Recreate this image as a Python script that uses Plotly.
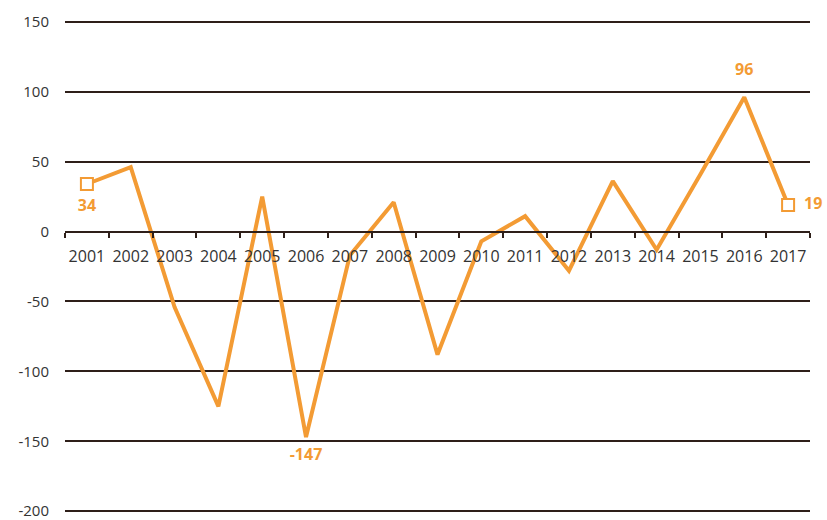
import plotly.graph_objects as go

years = [str(y) for y in range(2001, 2018)]
values = [34, 46, -54, -125, 25, -147, -17, 21, -88, -7, 11, -28, 36, -13, 41, 96, 19]
y_ticks = [150, 100, 50, 0, -50, -100, -150, -200]

line_color = "#F39B34"
grid_color = "#2e1f19"
text_color = "#333333"
font_family = "'Open Sans', Lato, sans-serif"

y_min, y_max = -202, 152

fig = go.Figure()

fig.add_trace(go.Scatter(
    x=years, y=values, mode="lines",
    line=dict(color=line_color, width=4),
    hoverinfo="skip", showlegend=False,
))

# hollow square markers on the first and last year
ends = [0, len(values) - 1]
fig.add_trace(go.Scatter(
    x=[years[i] for i in ends], y=[values[i] for i in ends], mode="markers",
    marker=dict(symbol="square", size=12, color="white",
                line=dict(color=line_color, width=2)),
    hoverinfo="skip", showlegend=False, cliponaxis=False,
))

# value labels for first, minimum, maximum and last year;
# transparent markers act as spacers pushing the text off the line
i_min = values.index(min(values))
i_max = values.index(max(values))
label_idx = [0, i_min, i_max, len(values) - 1]
label_pos = ["bottom center", "bottom center", "top center", "middle right"]
label_gap = [22, 16, 27, 24]
fig.add_trace(go.Scatter(
    x=[years[i] for i in label_idx], y=[values[i] for i in label_idx],
    mode="markers+text",
    text=[f"<b>{values[i]}</b>" for i in label_idx], textposition=label_pos,
    marker=dict(size=label_gap, opacity=0),
    textfont=dict(color=line_color, size=16, family=font_family),
    hoverinfo="skip", showlegend=False, cliponaxis=False,
))

fig.update_layout(
    width=827, height=520,
    margin=dict(l=65, r=17, t=19, b=6),
    paper_bgcolor="white", plot_bgcolor="white",
    font=dict(family=font_family, color=text_color, size=16),
    xaxis=dict(
        type="category", range=[-0.5, len(years) - 0.5],
        anchor="free", position=(0 - y_min) / (y_max - y_min),
        showline=True, linecolor=grid_color, linewidth=2,
        ticks="outside", tickson="boundaries", ticklen=5, tickwidth=1.5,
        tickcolor=grid_color, showgrid=False, tickangle=0,
        ticklabelstandoff=10,
        tickfont=dict(size=16, color=text_color),
        automargin=False, fixedrange=True,
    ),
    yaxis=dict(
        range=[y_min, y_max],
        tickvals=y_ticks, ticktext=[str(v) for v in y_ticks],
        showgrid=True, gridcolor=grid_color, gridwidth=1.5,
        zeroline=False, showline=False, ticks="",
        ticklabelstandoff=15, ticklabeloverflow="allow",
        tickfont=dict(size=15, color=text_color),
        automargin=False, fixedrange=True,
    ),
)

fig.write_html("out.html")
